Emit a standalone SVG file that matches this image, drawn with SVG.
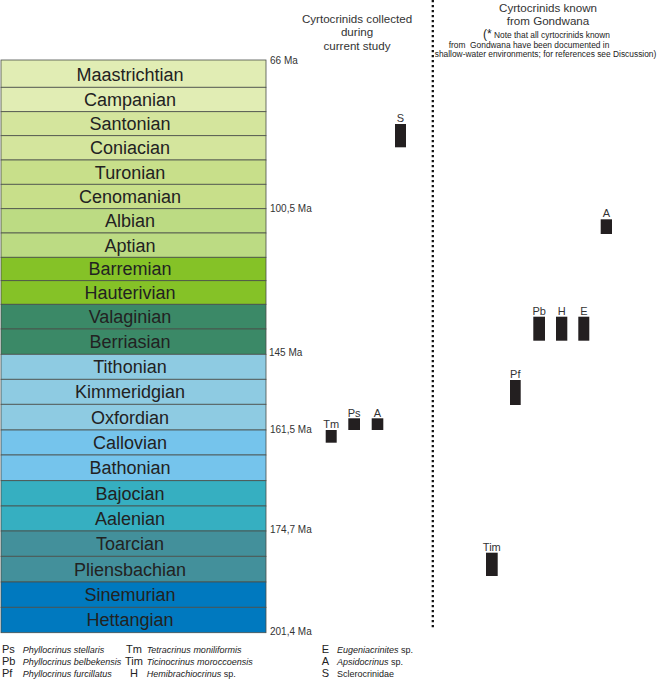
<svg xmlns="http://www.w3.org/2000/svg" width="661" height="681" viewBox="0 0 661 681">
<style>
text{font-family:"Liberation Sans",Arial,sans-serif}
.st rect{stroke:#4a4f4a;stroke-width:0.8}
.st text{font-size:18px;fill:#222;text-anchor:middle}
.ma{font-size:10px;fill:#333}
.hd{font-size:11.6px;fill:#333;text-anchor:middle}
.nt{font-size:8.4px;fill:#222}
.bar rect{fill:#231f20}
.bar text{font-size:11px;fill:#333;text-anchor:middle}
.lg{font-size:11px;fill:#222}
.sp{font-size:9px;fill:#222}
.it{font-style:italic}
.c1{fill:#e1edb4}.c2{fill:#d4e59d}.c3{fill:#c8df8a}.c4{fill:#bcdb83}.c5{fill:#85c227}.c6{fill:#3b8967}.c7{fill:#8ecbe2}.c8{fill:#75c4ec}.c9{fill:#36afc1}.c10{fill:#43909b}.c11{fill:#0079bf}
</style>
<rect width="661" height="681" fill="#fff"/>
<g id="stages" class="st">
<g id="maastrichtian"><rect class="c1" x="1" y="60" width="265" height="27.3"/><text x="130" y="80.5">Maastrichtian</text></g>
<g id="campanian"><rect class="c1" x="1" y="87.3" width="265" height="24.4"/><text x="130" y="105.8">Campanian</text></g>
<g id="santonian"><rect class="c2" x="1" y="111.7" width="265" height="24"/><text x="130" y="130">Santonian</text></g>
<g id="coniacian"><rect class="c2" x="1" y="135.7" width="265" height="24.3"/><text x="130" y="154.2">Coniacian</text></g>
<g id="turonian"><rect class="c3" x="1" y="160" width="265" height="24.3"/><text x="130" y="178.5">Turonian</text></g>
<g id="cenomanian"><rect class="c3" x="1" y="184.3" width="265" height="24.4"/><text x="130" y="202.8">Cenomanian</text></g>
<g id="albian"><rect class="c4" x="1" y="208.7" width="265" height="24.3"/><text x="130" y="227.2">Albian</text></g>
<g id="aptian"><rect class="c4" x="1" y="233" width="265" height="24.3"/><text x="130" y="251.5">Aptian</text></g>
<g id="barremian"><rect class="c5" x="1" y="257.3" width="265" height="23.4"/><text x="130" y="275.3">Barremian</text></g>
<g id="hauterivian"><rect class="c5" x="1" y="280.7" width="265" height="23.6"/><text x="130" y="298.8">Hauterivian</text></g>
<g id="valaginian"><rect class="c6" x="1" y="304.3" width="265" height="24.7"/><text x="130" y="323">Valaginian</text></g>
<g id="berriasian"><rect class="c6" x="1" y="329" width="265" height="25.3"/><text x="130" y="348">Berriasian</text></g>
<g id="tithonian"><rect class="c7" x="1" y="354.3" width="265" height="25"/><text x="130" y="373.2">Tithonian</text></g>
<g id="kimmeridgian"><rect class="c7" x="1" y="379.3" width="265" height="25"/><text x="130" y="398.2">Kimmeridgian</text></g>
<g id="oxfordian"><rect class="c7" x="1" y="404.3" width="265" height="25.7"/><text x="130" y="423.5">Oxfordian</text></g>
<g id="callovian"><rect class="c8" x="1" y="430" width="265" height="25"/><text x="130" y="448.9">Callovian</text></g>
<g id="bathonian"><rect class="c8" x="1" y="455" width="265" height="25.7"/><text x="130" y="474.2">Bathonian</text></g>
<g id="bajocian"><rect class="c9" x="1" y="480.7" width="265" height="25.3"/><text x="130" y="499.7">Bajocian</text></g>
<g id="aalenian"><rect class="c9" x="1" y="506" width="265" height="25"/><text x="130" y="524.9">Aalenian</text></g>
<g id="toarcian"><rect class="c10" x="1" y="531" width="265" height="25.3"/><text x="130" y="550">Toarcian</text></g>
<g id="pliensbachian"><rect class="c10" x="1" y="556.3" width="265" height="25.7"/><text x="130" y="575.5">Pliensbachian</text></g>
<g id="sinemurian"><rect class="c11" x="1" y="582" width="265" height="25.3"/><text x="130" y="601">Sinemurian</text></g>
<g id="hettangian"><rect class="c11" x="1" y="607.3" width="265" height="25.4"/><text x="130" y="626.3">Hettangian</text></g>
</g>
<g id="ages">
<text class="ma" x="270" y="63.5">66 Ma</text>
<text class="ma" x="270" y="211.5">100,5 Ma</text>
<text class="ma" x="269" y="356">145 Ma</text>
<text class="ma" x="270" y="433">161,5 Ma</text>
<text class="ma" x="270" y="533">174,7 Ma</text>
<text class="ma" x="270" y="635">201,4 Ma</text>
</g>
<g id="header-current">
<text class="hd" x="357" y="23">Cyrtocrinids collected</text>
<text class="hd" x="357" y="36.3">during</text>
<text class="hd" x="357" y="49.6">current study</text>
</g>
<g id="header-gondwana">
<text class="hd" x="548" y="12">Cyrtocrinids known</text>
<text class="hd" x="548" y="25.3">from Gondwana</text>
<text class="nt" x="483" y="37.5"><tspan font-size="12">(*</tspan> Note that all cyrtocrinids known</text>
<text class="nt" x="529" y="47.9" text-anchor="middle" xml:space="preserve">from  Gondwana have been documented in</text>
<text class="nt" x="545.5" y="57.3" text-anchor="middle">shallow-water environments; for references see Discussion)</text>
</g>
<g id="divider">
<line x1="432.8" y1="0" x2="432.8" y2="630" stroke="#111" stroke-width="2.3" stroke-dasharray="2.3 2.7"/>
</g>
<g id="bar-S" class="bar"><text x="400.5" y="121.5">S</text><rect x="395" y="124" width="11" height="23.3"/></g>
<g id="bar-Tm" class="bar"><text x="331.2" y="428">Tm</text><rect x="325.7" y="430" width="11" height="12.7"/></g>
<g id="bar-Ps" class="bar"><text x="354.2" y="416.5">Ps</text><rect x="348.3" y="418.3" width="11.7" height="11.7"/></g>
<g id="bar-A1" class="bar"><text x="377.5" y="416.5">A</text><rect x="371.7" y="418.3" width="11.6" height="11.7"/></g>
<g id="bar-A2" class="bar"><text x="606.3" y="217">A</text><rect x="600.7" y="219.3" width="11.3" height="14.7"/></g>
<g id="bar-Pb" class="bar"><text x="539.2" y="315">Pb</text><rect x="533.3" y="316.7" width="11.7" height="24"/></g>
<g id="bar-H" class="bar"><text x="561.7" y="315">H</text><rect x="556" y="316.7" width="11.3" height="24"/></g>
<g id="bar-E" class="bar"><text x="583.8" y="315">E</text><rect x="578.3" y="316.7" width="11" height="24"/></g>
<g id="bar-Pf" class="bar"><text x="515.3" y="378">Pf</text><rect x="510" y="380" width="10.7" height="25"/></g>
<g id="bar-Tim" class="bar"><text x="491.8" y="550.5">Tim</text><rect x="486" y="552.7" width="11.7" height="23.3"/></g>
<g id="legend">
<text class="lg" x="2" y="653">Ps</text><text class="sp it" x="22.7" y="653">Phyllocrinus stellaris</text>
<text class="lg" x="2" y="665">Pb</text><text class="sp it" x="22.7" y="665">Phyllocrinus belbekensis</text>
<text class="lg" x="2" y="677">Pf</text><text class="sp it" x="22.7" y="677">Phyllocrinus furcillatus</text>
<text class="lg" x="134" y="653" text-anchor="middle">Tm</text><text class="sp it" x="146.7" y="653">Tetracrinus moniliformis</text>
<text class="lg" x="134" y="665" text-anchor="middle">Tim</text><text class="sp it" x="146.7" y="665">Ticinocrinus moroccoensis</text>
<text class="lg" x="134" y="677" text-anchor="middle">H</text><text class="sp" x="146.7" y="677"><tspan class="it">Hemibrachiocrinus</tspan> sp.</text>
<text class="lg" x="325.5" y="653" text-anchor="middle">E</text><text class="sp" x="337" y="653"><tspan class="it">Eugeniacrinites</tspan> sp.</text>
<text class="lg" x="325.5" y="665" text-anchor="middle">A</text><text class="sp" x="337" y="665"><tspan class="it">Apsidocrinus</tspan> sp.</text>
<text class="lg" x="325.5" y="677" text-anchor="middle">S</text><text class="sp" x="337" y="677">Sclerocrinidae</text>
</g>
</svg>
